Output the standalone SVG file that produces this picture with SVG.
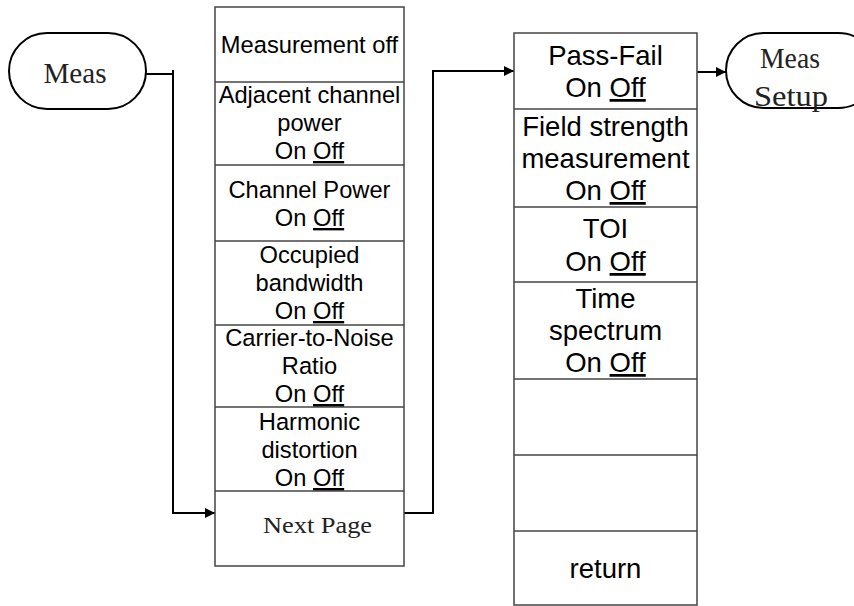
<svg xmlns="http://www.w3.org/2000/svg" width="854" height="606" viewBox="0 0 854 606">
  <style>
    .menu { fill: #fff; stroke: #444; stroke-width: 1.5; }
    .div { stroke: #444; stroke-width: 1.5; }
    .pill { fill: #fff; stroke: #000; stroke-width: 2; }
    .s { font-family: "Liberation Sans", Arial, sans-serif; font-size: 23.7px; fill: #000; text-anchor: middle; }
    .r { font-family: "Liberation Sans", Arial, sans-serif; font-size: 27.5px; fill: #000; text-anchor: middle; }
    .serif { font-family: "Liberation Serif", "Times New Roman", serif; fill: #222; text-anchor: middle; }
    .u { text-decoration: underline; }
    .wire { fill: none; stroke: #000; stroke-width: 2; }
  </style>
  <defs>
    <marker id="arrow" viewBox="0 0 10 10" refX="10" refY="5" markerWidth="10" markerHeight="10" markerUnits="userSpaceOnUse" orient="auto">
      <path d="M0,0 L10,5 L0,10 z" fill="#000"/>
    </marker>
  </defs>

  <rect width="854" height="606" fill="#fff"/>

  <!-- connectors -->
  <g id="connectors">
    <path class="wire" d="M146,74 H173"/>
    <path class="wire" d="M173,70 V513 H215" marker-end="url(#arrow)"/>
    <path class="wire" d="M404,513 H433 V71 H514" marker-end="url(#arrow)"/>
    <path class="wire" d="M697,72 H726" marker-end="url(#arrow)"/>
  </g>

  <!-- Meas key -->
  <g id="meas">
    <rect class="pill" x="9" y="33" width="137" height="76" rx="38" ry="38"/>
    <text class="serif" x="75" y="83" font-size="30" textLength="63" lengthAdjust="spacingAndGlyphs">Meas</text>
  </g>

  <!-- first page of the measurement menu -->
  <g id="menu-page1">
    <rect class="menu" x="215" y="7" width="189" height="559"/>
    <line class="div" x1="215" y1="82" x2="404" y2="82"/>
    <line class="div" x1="215" y1="165" x2="404" y2="165"/>
    <line class="div" x1="215" y1="241" x2="404" y2="241"/>
    <line class="div" x1="215" y1="325" x2="404" y2="325"/>
    <line class="div" x1="215" y1="407" x2="404" y2="407"/>
    <line class="div" x1="215" y1="491" x2="404" y2="491"/>

    <g id="measurement-off">
      <text class="s" x="309.5" y="53">Measurement off</text>
    </g>
    <g id="adjacent-channel-power">
      <text class="s" x="309.5" y="103">Adjacent channel</text>
      <text class="s" x="309.5" y="131">power</text>
      <text class="s" x="309.5" y="159">On <tspan class="u">Off</tspan></text>
    </g>
    <g id="channel-power">
      <text class="s" x="309.5" y="198">Channel Power</text>
      <text class="s" x="309.5" y="226">On <tspan class="u">Off</tspan></text>
    </g>
    <g id="occupied-bandwidth">
      <text class="s" x="309.5" y="263">Occupied</text>
      <text class="s" x="309.5" y="291">bandwidth</text>
      <text class="s" x="309.5" y="319">On <tspan class="u">Off</tspan></text>
    </g>
    <g id="carrier-to-noise">
      <text class="s" x="309.5" y="346">Carrier-to-Noise</text>
      <text class="s" x="309.5" y="374">Ratio</text>
      <text class="s" x="309.5" y="402">On <tspan class="u">Off</tspan></text>
    </g>
    <g id="harmonic-distortion">
      <text class="s" x="309.5" y="430">Harmonic</text>
      <text class="s" x="309.5" y="458">distortion</text>
      <text class="s" x="309.5" y="486">On <tspan class="u">Off</tspan></text>
    </g>
    <g id="next-page">
      <text class="serif" x="317.5" y="533" font-size="23" textLength="109" lengthAdjust="spacingAndGlyphs">Next Page</text>
    </g>
  </g>

  <!-- second page of the measurement menu -->
  <g id="menu-page2">
    <rect class="menu" x="514" y="33" width="183" height="572"/>
    <line class="div" x1="514" y1="109" x2="697" y2="109"/>
    <line class="div" x1="514" y1="207" x2="697" y2="207"/>
    <line class="div" x1="514" y1="282" x2="697" y2="282"/>
    <line class="div" x1="514" y1="379" x2="697" y2="379"/>
    <line class="div" x1="514" y1="455" x2="697" y2="455"/>
    <line class="div" x1="514" y1="531" x2="697" y2="531"/>

    <g id="pass-fail">
      <text class="r" x="605.5" y="65">Pass-Fail</text>
      <text class="r" x="605.5" y="97">On <tspan class="u">Off</tspan></text>
    </g>
    <g id="field-strength">
      <text class="r" x="605.5" y="136">Field strength</text>
      <text class="r" x="605.5" y="168">measurement</text>
      <text class="r" x="605.5" y="200">On <tspan class="u">Off</tspan></text>
    </g>
    <g id="toi">
      <text class="r" x="605.5" y="238">TOI</text>
      <text class="r" x="605.5" y="271">On <tspan class="u">Off</tspan></text>
    </g>
    <g id="time-spectrum">
      <text class="r" x="605.5" y="308">Time</text>
      <text class="r" x="605.5" y="340">spectrum</text>
      <text class="r" x="605.5" y="372">On <tspan class="u">Off</tspan></text>
    </g>
    <g id="return">
      <text class="r" x="605.5" y="578">return</text>
    </g>
  </g>

  <!-- Meas Setup key -->
  <g id="meas-setup">
    <rect class="pill" x="726" y="33" width="150" height="75" rx="37.5" ry="37.5"/>
    <text class="serif" x="790" y="68" font-size="29" textLength="60" lengthAdjust="spacingAndGlyphs">Meas</text>
    <text class="serif" x="791" y="106" font-size="29" textLength="74" lengthAdjust="spacingAndGlyphs">Setup</text>
  </g>
</svg>
